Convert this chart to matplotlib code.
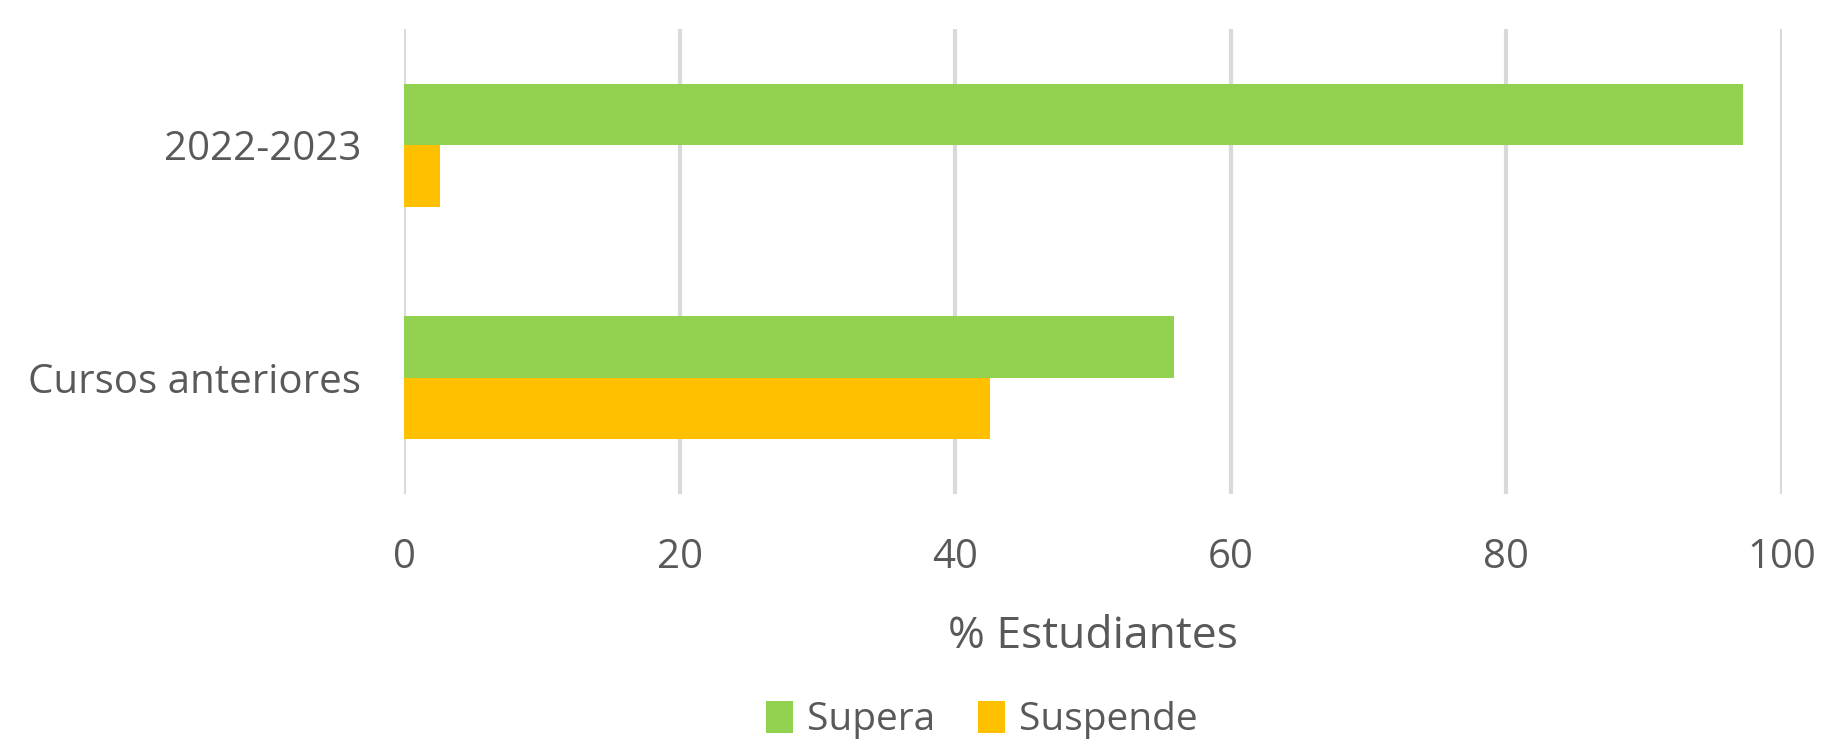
import matplotlib
matplotlib.use("Agg")
import matplotlib.pyplot as plt
import numpy as np

categories = ["2022-2023", "Cursos anteriores"]
series_names = ["Supera", "Suspende"]
supera = [97.2, 55.9]
suspende = [2.6, 42.5]
xticks = [0, 20, 40, 60, 80, 100]
xlabel = "% Estudiantes"

plt.rcParams['font.family'] = ['Open Sans', 'DejaVu Sans']
gray = "#595959"

fig = plt.figure(figsize=(18.23, 7.45), dpi=100)
ax = fig.add_axes([404/1823, 1-494/745, (1782-404)/1823, (494-29)/745])

y = np.arange(len(categories))
h = 0.265
ax.barh(y - h/2, supera, height=h, color="#92D050", label=series_names[0], zorder=3)
ax.barh(y + h/2, suspende, height=h, color="#FFC000", label=series_names[1], zorder=3)

ax.set_ylim(len(categories) - 0.5, -0.5)
ax.set_xlim(0, 100)
ax.set_yticks(y)
ax.set_yticklabels(categories)
ax.set_xticks(xticks)
ax.set_xticklabels([str(t) for t in xticks])
ax.tick_params(axis='both', length=0, labelsize=29, colors=gray)
ax.tick_params(axis='y', pad=31)
ax.tick_params(axis='x', pad=31)
ax.xaxis.grid(True, color="#d9d9d9", linewidth=3, zorder=0)
for s in ax.spines.values():
    s.set_visible(False)
ax.set_xlabel(xlabel, fontsize=32, color=gray)
ax.xaxis.set_label_coords(0.5, 1 - (637 - 29) / (494 - 29))
ax.xaxis.label.set_va('center')

leg = fig.legend(loc='center', bbox_to_anchor=(0.5386, 1-720/745), ncol=2, frameon=False,
                 fontsize=28, handlelength=0.7, handleheight=0.9, handletextpad=0.35,
                 columnspacing=1.1, borderpad=0.2)
for t in leg.get_texts():
    t.set_color(gray)

fig.savefig("out.png", dpi=100)
